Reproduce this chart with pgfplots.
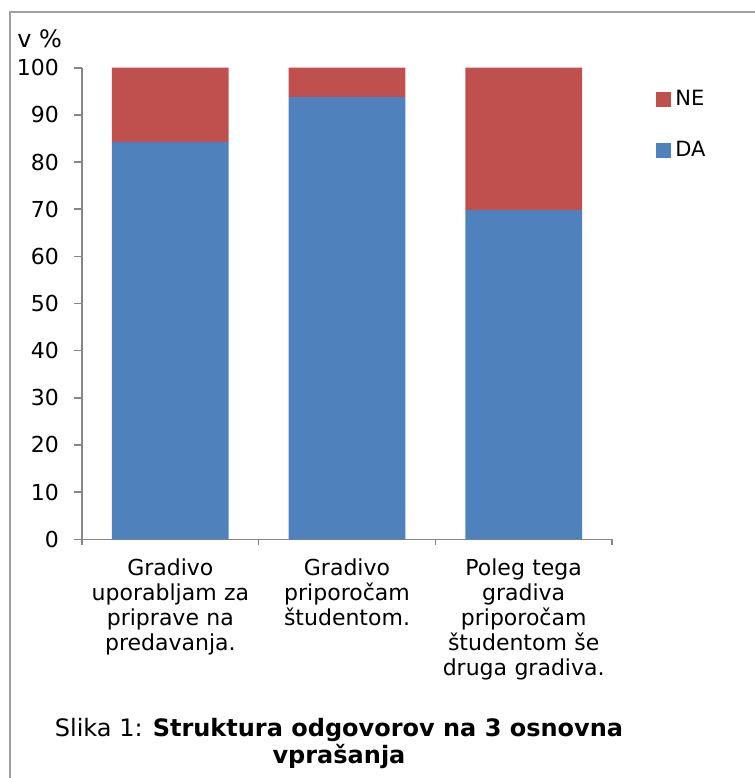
\documentclass[border=0pt]{standalone}
\usepackage{fontspec}
\setmainfont{DejaVu Sans}
\usepackage{pgfplots}
\pgfplotsset{compat=1.18}
\definecolor{cDA}{HTML}{4F81BD}
\definecolor{cNE}{HTML}{C0504D}
\definecolor{axgray}{HTML}{868686}
\definecolor{framegray}{HTML}{A0A0A0}
\begin{document}
\begin{tikzpicture}
\useasboundingbox (0,0) rectangle (377.5pt,389pt);
\draw[framegray, line width=0.9pt] (5pt,0) -- (5pt,383pt) -- (377.5pt,383pt);
\begin{axis}[
  at={(41pt,119.35pt)}, anchor=south west,
  scale only axis, width=265pt, height=235.8pt,
  ybar stacked, bar width=0.661,
  xmin=-0.5, xmax=2.5, ymin=0, ymax=100,
  axis x line*=bottom, axis y line*=left,
  axis line style={axgray, line width=0.8pt},
  xtick={0,1,2},
  xticklabels={{Gradivo\\uporabljam za\\priprave na\\predavanja.},{Gradivo\\priporočam\\študentom.},{Poleg tega\\gradiva\\priporočam\\študentom še\\druga gradiva.}},
  x tick label style={text width=90pt, align=center, font=\fontsize{11}{12.6}\selectfont, anchor=north, yshift=-2pt},
  major x tick style={draw=none},
  minor xtick={-0.5,0.5,1.5,2.5},
  minor x tick style={axgray, line width=0.8pt},
  minor tick length=3pt,
  ytick={0,10,...,100},
  major y tick style={axgray, line width=0.8pt},
  major tick length=4pt,
  tick align=outside,
  y tick label style={font=\fontsize{11}{13}\selectfont, anchor=east},
  yticklabel shift=4pt,
  /pgf/number format/assume math mode=true,
  legend style={at={(1.083,0.8785)}, anchor=west, draw=none, fill=none, inner sep=0pt,
    font=\fontsize{10.5}{12}\selectfont, row sep=12.5pt, legend cell align=left},
  reverse legend,
  legend image code/.code={\fill[#1] (0pt,-3.75pt) rectangle (7.5pt,3.75pt);},
  clip=false,
]
\addplot[fill=cDA, draw=none] coordinates {(0,84.2) (1,93.8) (2,69.8)};
\addlegendentry{DA}
\addplot[fill=cNE, draw=none] coordinates {(0,15.8) (1,6.2) (2,30.2)};
\addlegendentry{NE}
\end{axis}
\node[anchor=base west, font=\fontsize{12}{14}\selectfont, inner sep=0pt] at (8.5pt,365pt) {v \%};
\node[anchor=base, font=\fontsize{12}{14}\selectfont, inner sep=0pt] at (169.5pt,20.5pt) {Slika 1: \textbf{Struktura odgovorov na 3 osnovna}};
\node[anchor=base, font=\fontsize{12}{14}\selectfont\bfseries, inner sep=0pt] at (169.5pt,7.5pt) {vprašanja};
\end{tikzpicture}
\end{document}
